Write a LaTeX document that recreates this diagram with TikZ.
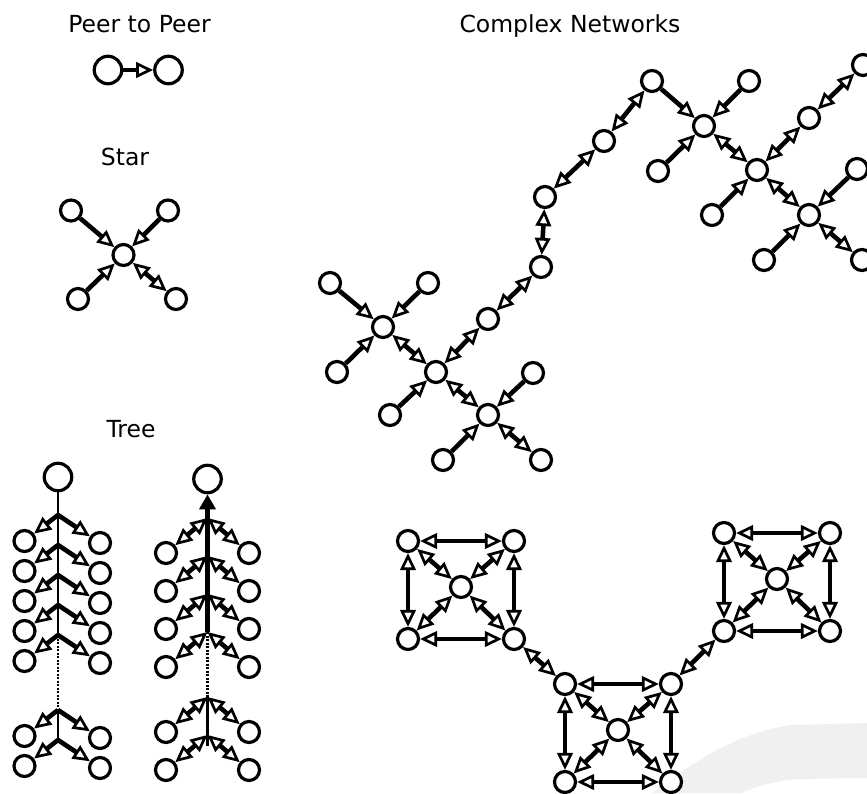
\documentclass[tikz,border=0pt]{standalone}
\usepackage{fontspec}
\setmainfont{DejaVu Sans}
\usetikzlibrary{arrows.meta}
\tikzset{
  nd/.style={circle,draw,line width=3.2pt,minimum size=21pt,inner sep=0pt,fill=white},
  big/.style={nd,minimum size=27.5pt},
  ot/.tip={Triangle[length=17pt,width=15.5pt,fill=white,line width=2.7pt]},
  one/.style={line width=4.6pt,-ot},
  two/.style={line width=4.6pt,ot-ot},
  trunk/.style={line width=2.8pt},
  dots/.style={line width=2.8pt,dash pattern=on 2pt off 1.5pt},
  lbl/.style={font=\fontsize{23.5}{28}\selectfont,anchor=base,inner sep=0pt}
}
\begin{document}
\begin{tikzpicture}[x=1pt,y=-1pt]
\useasboundingbox (0,0) rectangle (867,793);
\clip (0,0) rectangle (867,793);
% faint background swoosh
\fill[black!6] (652,793) .. controls (690,765) and (730,735) .. (790,725) -- (867,723) -- (867,778) -- (800,779) .. controls (775,781) and (755,786) .. (742,793) -- cycle;
% labels
\node[lbl] (lp) at (139.5,32) {Peer to Peer};
\node[lbl] (ls) at (125,165) {Star};
\node[lbl] (lt) at (131,437) {Tree};
\node[lbl] (lc) at (570,32) {Complex Networks};
% peer to peer
\node[big] (p1) at (108,70) {};
\node[big] (p2) at (168.5,70) {};
\draw[one] (p1) -- (p2);
% star
\node[nd] (sc) at (123.5,255) {};
\node[nd] (s1) at (71,210.5) {};
\node[nd] (s2) at (168,210.5) {};
\node[nd] (s3) at (78,299) {};
\node[nd] (s4) at (176,299) {};
\draw[one] (s1) -- (sc);
\draw[one] (s2) -- (sc);
\draw[one] (s3) -- (sc);
\draw[two] (sc) -- (s4);
% tree 1
\node[big] (t1) at (58,477) {};
\foreach \i/\y in {1/515,2/545,3/575,4/605,5/635,6/710,7/740}{
  \coordinate (t1b\i) at (58,\y);
  \node[nd] (t1l\i) at (24.5,\y+26) {};
  \node[nd] (t1r\i) at (100,\y+28) {};
}
\draw[trunk] (t1) -- (t1b5);
\draw[dots] (t1b5) -- (t1b6);
\draw[trunk] (t1b6) -- (t1b7);
\foreach \i in {1,...,7}{
  \draw[one] (t1b\i) -- (t1l\i);
  \draw[one] (t1b\i) -- (t1r\i);
}
% tree 2
\node[big] (t2) at (207.5,479) {};
\foreach \i/\y in {1/518,2/556,3/594,4/632,5/697,6/735}{
  \coordinate (t2b\i) at (207.5,\y);
  \node[nd] (t2l\i) at (166,\y+35) {};
  \node[nd] (t2r\i) at (249,\y+35) {};
}
\coordinate (t2end) at (207.5,746);
\draw[line width=4.6pt,-{Triangle[length=15pt,width=16pt]}] (t2b4) -- (t2);
\draw[dots] (t2b4) -- (t2b5);
\draw[trunk] (t2b5) -- (t2end);
\foreach \i in {1,...,6}{
  \draw[two] (t2b\i) -- (t2l\i);
  \draw[two] (t2b\i) -- (t2r\i);
}
% complex network (upper)
\node[nd] (A) at (330,283) {};
\node[nd] (B) at (428,283) {};
\node[nd] (C) at (383,327) {};
\node[nd] (D) at (337,372) {};
\node[nd] (E) at (436,372) {};
\node[nd] (F) at (390,415) {};
\node[nd] (G) at (488,415) {};
\node[nd] (H) at (533,373) {};
\node[nd] (I) at (443,460) {};
\node[nd] (J) at (541,460) {};
\node[nd] (K) at (488,319) {};
\node[nd] (L) at (541,267) {};
\node[nd] (M) at (545,197) {};
\node[nd] (N) at (604,141) {};
\node[nd] (O) at (652,81) {};
\node[nd] (P) at (704,126) {};
\node[nd] (Q) at (749,81) {};
\node[nd] (R) at (658,171) {};
\node[nd] (S) at (757,170) {};
\node[nd] (T) at (712,215) {};
\node[nd] (U) at (809,118) {};
\node[nd] (V) at (863,65) {};
\node[nd] (W) at (809,215) {};
\node[nd] (X) at (857,169) {};
\node[nd] (Y) at (764,260) {};
\node[nd] (Z) at (862,260) {};
\draw[one] (A) -- (C);
\draw[one] (B) -- (C);
\draw[one] (D) -- (C);
\draw[two] (C) -- (E);
\draw[one] (F) -- (E);
\draw[two] (E) -- (K);
\draw[two] (K) -- (L);
\draw[two] (L) -- (M);
\draw[two] (M) -- (N);
\draw[two] (N) -- (O);
\draw[one] (O) -- (P);
\draw[one] (Q) -- (P);
\draw[one] (R) -- (P);
\draw[two] (P) -- (S);
\draw[two] (S) -- (U);
\draw[two] (U) -- (V);
\draw[one] (T) -- (S);
\draw[two] (S) -- (W);
\draw[one] (X) -- (W);
\draw[one] (Y) -- (W);
\draw[two] (W) -- (Z);
\draw[two] (E) -- (G);
\draw[one] (H) -- (G);
\draw[one] (I) -- (G);
\draw[two] (G) -- (J);
% complex network (lower): three squares
\foreach \s/\x/\y in {a/408/541,b/565/684,c/724/533}{
  \node[nd] (\s1) at (\x,\y) {};
  \node[nd] (\s2) at (\x+106,\y) {};
  \node[nd] (\s3) at (\x,\y+98) {};
  \node[nd] (\s4) at (\x+106,\y+98) {};
  \node[nd] (\s c) at (\x+53,\y+46) {};
  \draw[two] (\s1) -- (\s2);
  \draw[two] (\s3) -- (\s4);
  \draw[two] (\s1) -- (\s3);
  \draw[two] (\s2) -- (\s4);
  \draw[two] (\s1) -- (\s c);
  \draw[two] (\s2) -- (\s c);
  \draw[two] (\s3) -- (\s c);
  \draw[two] (\s4) -- (\s c);
}
\draw[two] (a4) -- (b1);
\draw[two] (b2) -- (c3);
\end{tikzpicture}
\end{document}
